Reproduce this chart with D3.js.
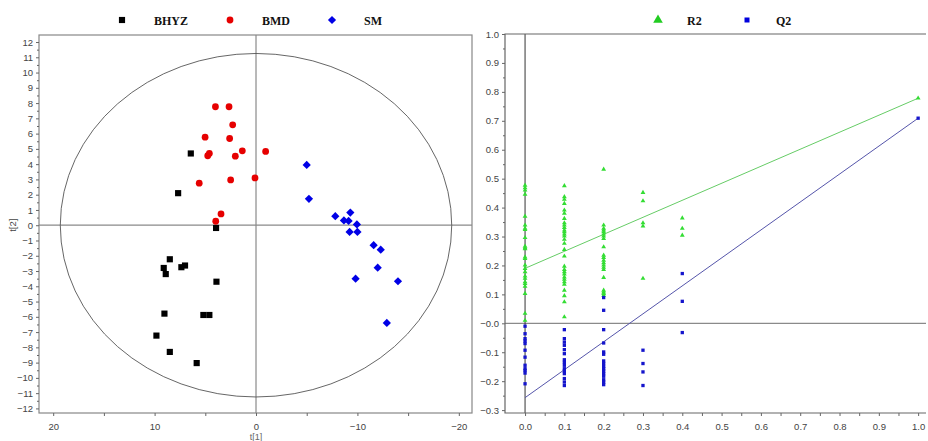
<!DOCTYPE html>
<html><head><meta charset="utf-8">
<script src="https://cdn.jsdelivr.net/npm/d3@7"></script>
<style>body{margin:0;background:#fff}svg{display:block}</style>
</head><body>
<svg id="c" width="928" height="441"></svg>
<script>
// ---------- Left: score plot ----------
const groups = ["BHYZ", "BMD", "SM"];
const bhyzT1 = [6.43, 7.68, 3.94, 8.5, 9.1, 8.9, 7.36, 7.0, 3.9, 9.03, 5.19, 4.6, 9.82, 8.5, 5.85];
const bhyzT2 = [4.7, 2.1, -0.18, -2.23, -2.8, -3.2, -2.75, -2.64, -3.7, -5.79, -5.88, -5.88, -7.23, -8.3, -9.03];
const bmdT1 = [4.0, 2.66, 2.3, 5.02, 2.6, 4.6, 4.76, 1.35, 2.04, -0.95, 5.6, 2.5, 0.1, 3.45, 3.97];
const bmdT2 = [7.76, 7.76, 6.58, 5.77, 5.68, 4.7, 4.55, 4.87, 4.52, 4.83, 2.75, 2.97, 3.1, 0.74, 0.26];
const smT1 = [-5.0, -5.22, -7.82, -9.3, -8.67, -9.13, -9.95, -9.23, -10.0, -11.6, -12.3, -12.0, -9.82, -14.0, -12.9];
const smT2 = [3.95, 1.73, 0.59, 0.83, 0.31, 0.28, 0.05, -0.44, -0.44, -1.31, -1.6, -2.78, -3.5, -3.67, -6.4];
const ellipseT1 = 19.3, ellipseT2 = 11.25;
const leftXTicks = [20, 10, 0, -10, -20];
const leftXMinor = [15, 5, -5, -15];
const leftYTicks = d3.range(-12, 13);

// ---------- Right: permutation plot ----------
const permSeries = ["R2", "Q2"];
const r2X = [].concat(
  Array(25).fill(0.0), Array(30).fill(0.1), Array(21).fill(0.2), Array(5).fill(0.3), Array(3).fill(0.4), [1.0]);
const r2Y = [
  0.477,0.468,0.460,0.446,0.370,0.339,0.328,0.324,0.296,0.266,0.261,0.257,0.229,0.224,0.201,0.189,0.178,0.163,0.155,0.143,0.137,0.128,0.103,0.034,0.010,
  0.475,0.437,0.428,0.414,0.391,0.380,0.362,0.347,0.339,0.331,0.322,0.316,0.308,0.301,0.290,0.276,0.255,0.232,0.197,0.186,0.178,0.170,0.160,0.152,0.143,0.135,0.114,0.095,0.074,0.022,
  0.532,0.339,0.328,0.322,0.316,0.308,0.301,0.293,0.264,0.235,0.227,0.218,0.209,0.201,0.193,0.186,0.158,0.114,0.108,0.103,0.097,
  0.452,0.423,0.347,0.336,0.155,
  0.364,0.328,0.304,
  0.778];
const q2X = [].concat(
  Array(12).fill(0.0), Array(15).fill(0.1), Array(16).fill(0.2), Array(4).fill(0.3), Array(3).fill(0.4), [1.0]);
const q2Y = [
  -0.010,-0.036,-0.053,-0.061,-0.070,-0.093,-0.117,-0.145,-0.157,-0.163,-0.172,-0.209,
  -0.022,-0.053,-0.065,-0.076,-0.091,-0.105,-0.126,-0.135,-0.145,-0.157,-0.165,-0.174,-0.191,-0.203,-0.215,
  0.089,0.045,-0.022,-0.068,-0.099,-0.107,-0.130,-0.139,-0.149,-0.157,-0.165,-0.174,-0.183,-0.195,-0.203,-0.212,
  -0.093,-0.139,-0.168,-0.215,
  0.172,0.076,-0.032,
  0.709];
const r2Line = [[0.0, 0.19], [1.0, 0.778]];
const q2Line = [[0.0, -0.257], [1.0, 0.709]];
const rightXTicks = d3.range(0, 11).map(i => i / 10);
const rightXMinor = d3.range(0, 10).map(i => i / 10 + 0.05);
const rightYTicks = d3.range(-3, 11).map(i => i / 10);
const rightYMinor = d3.range(-3, 10).map(i => i / 10 + 0.05);

const svg = d3.select("#c");
const tickFont = "'Liberation Sans', Arial, sans-serif";
const legFont = "'Liberation Serif', 'Times New Roman', serif";

// ===== LEFT =====
const xL = d3.scaleLinear().domain([21.4, -21.3]).range([39, 472]);
const yL = d3.scaleLinear().domain([-12.3, 12.46]).range([413, 35]);
const L = svg.append("g");

L.append("line").attr("x1", xL(0)).attr("x2", xL(0)).attr("y1", yL.range()[1]).attr("y2", yL.range()[0]).attr("stroke", "#8a8a8a").attr("stroke-width", 1.2);
L.append("line").attr("x1", xL.range()[0]).attr("x2", xL.range()[1]).attr("y1", yL(0)).attr("y2", yL(0)).attr("stroke", "#8a8a8a").attr("stroke-width", 1.2);

L.append("ellipse").attr("cx", xL(0)).attr("cy", yL(0))
  .attr("rx", Math.abs(xL(ellipseT1) - xL(0))).attr("ry", Math.abs(yL(ellipseT2) - yL(0)))
  .attr("fill", "none").attr("stroke", "#555").attr("stroke-width", 0.9);

L.append("rect").attr("x", 39).attr("y", 35).attr("width", 433).attr("height", 378).attr("fill", "none").attr("stroke", "#888").attr("stroke-width", 1.2);

const axLY = L.append("g").attr("transform", `translate(39,0)`)
  .call(d3.axisLeft(yL).tickValues(leftYTicks).tickFormat(d => d < 0 ? "\u2212" + (-d) : d).tickSize(3).tickPadding(3));
axLY.select(".domain").remove();
L.append("g").attr("transform", `translate(39,0)`)
  .call(d3.axisLeft(yL).tickValues(leftYTicks.slice(0, -1).map(v => v + 0.5)).tickFormat("").tickSize(2))
  .select(".domain").remove();
const axLX = L.append("g").attr("transform", `translate(0,413)`)
  .call(d3.axisBottom(xL).tickValues(leftXTicks).tickFormat(d => d < 0 ? "\u2212" + (-d) : d).tickSize(3).tickPadding(7));
axLX.select(".domain").remove();
L.append("g").attr("transform", `translate(0,413)`)
  .call(d3.axisBottom(xL).tickValues(leftXMinor).tickFormat("").tickSize(3))
  .select(".domain").remove();
L.selectAll(".tick text").attr("font-family", tickFont).attr("font-size", 9.5).attr("fill", "#444");
L.selectAll(".tick line").attr("stroke", "#666");

L.append("text").attr("transform", `translate(16,${yL(0)}) rotate(-90)`).attr("text-anchor", "middle")
  .attr("font-family", tickFont).attr("font-size", 9.5).attr("fill", "#444").text("t[2]");
L.append("text").attr("x", xL(0)).attr("y", 440).attr("text-anchor", "middle")
  .attr("font-family", tickFont).attr("font-size", 9).attr("fill", "#666").text("t[1]");

const sqSym = d3.symbol().type(d3.symbolSquare).size(38);
const ciSym = d3.symbol().type(d3.symbolCircle).size(36);
const diSym = d3.symbol().type(d3.symbolSquare).size(34);
const addPts = (xs, ys, sym, color, rot) => L.append("g").selectAll("path").data(xs.map((x, i) => [x, ys[i]])).join("path")
  .attr("d", sym).attr("fill", color).attr("transform", d => `translate(${xL(d[0])},${yL(d[1])}) rotate(${rot})`);
addPts(bhyzT1, bhyzT2, sqSym, "#000", 0);
addPts(bmdT1, bmdT2, ciSym, "#e60000", 0);
addPts(smT1, smT2, diSym, "#0000e6", 45);

const legL = [[122, sqSym, "#000", 0], [230, ciSym, "#e60000", 0], [332, diSym, "#0000e6", 45]];
legL.forEach((l, i) => {
  L.append("path").attr("d", l[1]).attr("fill", l[2]).attr("transform", `translate(${l[0]},20) rotate(${l[3]})`);
  L.append("text").attr("x", l[0] + 32).attr("y", 24.5).attr("font-family", legFont).attr("font-weight", "bold")
    .attr("font-size", 12).attr("fill", "#111").text(groups[i]);
});

// ===== RIGHT =====
const xR = d3.scaleLinear().domain([-0.051, 1.02]).range([505, 926]);
const yR = d3.scaleLinear().domain([-0.31, 1.0]).range([413, 34]);
const R = svg.append("g");

R.append("line").attr("x1", xR.range()[0]).attr("x2", xR.range()[1]).attr("y1", yR(0)).attr("y2", yR(0)).attr("stroke", "#8a8a8a").attr("stroke-width", 1.3);
R.append("line").attr("x1", xR(0)).attr("x2", xR(0)).attr("y1", 34).attr("y2", 413).attr("stroke", "#333").attr("stroke-width", 1);

R.append("path").attr("d", `M926,34H505V413H926`).attr("fill", "none").attr("stroke", "#666").attr("stroke-width", 1.2);

const axRY = R.append("g").attr("transform", `translate(505,0)`)
  .call(d3.axisLeft(yR).tickValues(rightYTicks).tickFormat(d => (d <= 0 && d > -0.05 ? "\u2212" : (d < 0 ? "\u2212" : "")) + Math.abs(d).toFixed(1)).tickSize(3).tickPadding(3));
axRY.select(".domain").remove();
R.append("g").attr("transform", `translate(505,0)`)
  .call(d3.axisLeft(yR).tickValues(rightYMinor).tickFormat("").tickSize(2)).select(".domain").remove();
const axRX = R.append("g").attr("transform", `translate(0,413)`)
  .call(d3.axisBottom(xR).tickValues(rightXTicks).tickFormat(d3.format(".1f")).tickSize(3).tickPadding(7));
axRX.select(".domain").remove();
R.append("g").attr("transform", `translate(0,413)`)
  .call(d3.axisBottom(xR).tickValues(rightXMinor).tickFormat("").tickSize(3)).select(".domain").remove();
R.selectAll(".tick text").attr("font-family", tickFont).attr("font-size", 9.5).attr("fill", "#444");
R.selectAll(".tick line").attr("stroke", "#666");

const lineGen = d3.line().x(d => xR(d[0])).y(d => yR(d[1]));
R.append("path").attr("d", lineGen(r2Line)).attr("stroke", "#66cc66").attr("stroke-width", 1).attr("fill", "none");
R.append("path").attr("d", lineGen(q2Line)).attr("stroke", "#5555aa").attr("stroke-width", 1).attr("fill", "none");

const triS = d3.symbol().type(d3.symbolTriangle).size(10);
const sqS = d3.symbol().type(d3.symbolSquare).size(11);
R.append("g").selectAll("path").data(r2X.map((x, i) => [x, r2Y[i]])).join("path")
  .attr("d", triS).attr("fill", "#33dd33").attr("transform", d => `translate(${xR(d[0])},${yR(d[1])})`);
R.append("g").selectAll("path").data(q2X.map((x, i) => [x, q2Y[i]])).join("path")
  .attr("d", sqS).attr("fill", "#1515cc").attr("transform", d => `translate(${xR(d[0])},${yR(d[1])})`);

const legR = [[658, d3.symbol().type(d3.symbolTriangle).size(40), "#22cc22"], [747, d3.symbol().type(d3.symbolSquare).size(25), "#0000dd"]];
legR.forEach((l, i) => {
  R.append("path").attr("d", l[1]).attr("fill", l[2]).attr("transform", `translate(${l[0]},20)`);
  R.append("text").attr("x", l[0] + 29).attr("y", 24.5).attr("font-family", legFont).attr("font-weight", "bold")
    .attr("font-size", 12).attr("fill", "#111").text(permSeries[i]);
});
</script>
</body></html>
